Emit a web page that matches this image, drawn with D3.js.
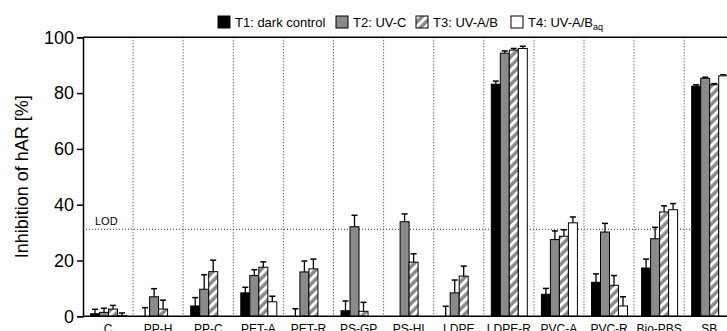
<!DOCTYPE html>
<html><head><meta charset="utf-8">
<script src="https://cdn.jsdelivr.net/npm/d3@7"></script>
<style>html,body{margin:0;padding:0;background:#fff;overflow:hidden}svg{display:block;font-family:"Liberation Sans",Arial,sans-serif}</style>
</head><body>
<script>
const categories = ["C","PP-H","PP-C","PET-A","PET-R","PS-GP","PS-HI","LDPE","LDPE-R","PVC-A","PVC-R","Bio-PBS","SB"];
const seriesNames = ["T1: dark control","T2: UV-C","T3: UV-A/B","T4: UV-A/B"];
const t1 = [0.9, 0, 3.7, 8.4, 0, 2.0, null, 0, 83.2, 7.9, 12.2, 17.3, 82.5];
const t1err = [1.6, 3.1, 3.0, 2.0, 2.7, 3.5, 0, 3.6, 1.1, 2.1, 3.0, 3.2, 0.5];
const t2 = [1.4, 7.0, 9.7, 14.6, 15.9, 32.1, 33.9, 8.4, 94.3, 27.5, 30.2, 27.8, 85.3];
const t2err = [1.5, 2.9, 5.2, 2.1, 3.9, 4.1, 2.8, 4.6, 0.8, 3.1, 3.1, 4.1, 0.4];
const t3 = [2.6, 2.6, 16.0, 17.6, 17.0, 1.8, 19.4, 14.4, 95.4, 28.7, 11.1, 37.4, 83.0];
const t3err = [1.3, 3.2, 4.1, 1.9, 3.5, 3.2, 3.0, 3.6, 0.6, 2.3, 3.5, 2.2, 0.4];
const t4 = [0.2, null, null, 5.2, null, null, null, null, 96.0, 33.5, 3.7, 38.2, 86.2];
const t4err = [1.0, 0, 0, 2.0, 0, 0, 0, 0, 0.8, 2.1, 3.3, 2.2, 0.4];
const yTicks = [0, 20, 40, 60, 80, 100];
const lodValue = 31.2;

const series = [
  {vals: t1, errs: t1err, fill: "#000"},
  {vals: t2, errs: t2err, fill: "#8a8a8a"},
  {vals: t3, errs: t3err, fill: "url(#stripes)"},
  {vals: t4, errs: t4err, fill: "#fff"}
];

const FONT = "'Liberation Sans',Arial,sans-serif";
const W = 727, H = 331;
const svg = d3.select("body").append("svg").attr("width", W).attr("height", H);
const defs = svg.append("defs");
const pat = defs.append("pattern").attr("id","stripes").attr("patternUnits","userSpaceOnUse")
  .attr("width",6.5).attr("height",6.5).attr("patternTransform","rotate(45)");
pat.append("rect").attr("width",6.5).attr("height",6.5).attr("fill","#8a8a8a");
pat.append("rect").attr("x",0).attr("width",3).attr("height",6.5).attr("fill","#fff");

const x0 = 83, bandW = 50.1;
const x = d3.scaleBand().domain(categories).range([x0, x0 + bandW*categories.length]).padding(0);
const xi = d3.scaleBand().domain(d3.range(4)).range([7.5, 43.5]).padding(0);
const y = d3.scaleLinear().domain([0, 100]).range([316.3, 37.3]);

// separators
categories.forEach((c,i)=>{
  if(i===0) return;
  svg.append("line").attr("x1",x(c)).attr("x2",x(c)).attr("y1",y(100)).attr("y2",y(0))
    .attr("stroke","#333").attr("stroke-width",1).attr("stroke-dasharray","1,2");
});
// LOD
svg.append("line").attr("x1",x0).attr("x2",W).attr("y1",y(lodValue)).attr("y2",y(lodValue))
  .attr("stroke","#333").attr("stroke-width",1).attr("stroke-dasharray","1,2");
svg.append("text").attr("x",95).attr("y",y(lodValue)-4).attr("font-size",11).text("LOD");

// bars
series.forEach((s,si)=>{
  categories.forEach((c,ci)=>{
    const v = s.vals[ci];
    if(v===null) return;
    const bx = x(c) + xi(si), bw = xi.bandwidth();
    const e = s.errs[ci];
    if(e>0){
      const cx = bx + bw/2;
      svg.append("line").attr("x1",cx).attr("x2",cx).attr("y1",y(v)).attr("y2",y(v+e))
        .attr("stroke","#000").attr("stroke-width",1.3);
      svg.append("line").attr("x1",cx-3).attr("x2",cx+3).attr("y1",y(v+e)).attr("y2",y(v+e))
        .attr("stroke","#000").attr("stroke-width",1.5);
    }
    if(v>0){
      svg.append("rect").attr("x",bx).attr("y",y(v)).attr("width",bw).attr("height",y(0)-y(v))
        .attr("fill",s.fill).attr("stroke","#000").attr("stroke-width",1);
    }
  });
});

// axes
const yAxis = d3.axisLeft(y).tickValues(yTicks).tickSize(6).tickPadding(3);
const gy = svg.append("g").attr("transform",`translate(${x0},0)`).call(yAxis);
gy.select(".domain").attr("stroke-width",1.5);
gy.selectAll(".tick line").attr("stroke-width",1.5);
gy.selectAll("text").attr("font-size",18).attr("font-family",FONT).attr("fill","#000");

const xAxis = d3.axisBottom(x).tickSize(0).tickPadding(8);
const gx = svg.append("g").attr("transform",`translate(0,${y(0)})`).call(xAxis);
gx.select(".domain").attr("stroke-width",1.5).attr("d",`M${x0},0H${W}`);
gx.selectAll("text").attr("font-size",12).attr("font-family",FONT).attr("fill","#000");

// top line
svg.append("line").attr("x1",x0).attr("x2",W).attr("y1",y(100)).attr("y2",y(100)).attr("stroke","#000").attr("stroke-width",1.5);

// y label
svg.append("text").attr("transform",`translate(28,${(y(0)+y(100))/2}) rotate(-90)`)
  .attr("text-anchor","middle").attr("font-size",18).text("Inhibition of hAR [%]");

// legend
const legX = [218, 336, 416, 511];
const legFills = ["#000","#8a8a8a","url(#stripes)","#fff"];
seriesNames.forEach((n,i)=>{
  svg.append("rect").attr("x",legX[i]).attr("y",16).attr("width",12).attr("height",12)
    .attr("fill",legFills[i]).attr("stroke","#000").attr("stroke-width",1);
  const t = svg.append("text").attr("x",legX[i]+17).attr("y",27).attr("font-size",13).text(n);
  if(i===3){ t.append("tspan").attr("font-size",9).attr("dy",3).text("aq"); }
});
</script>
</body></html>
